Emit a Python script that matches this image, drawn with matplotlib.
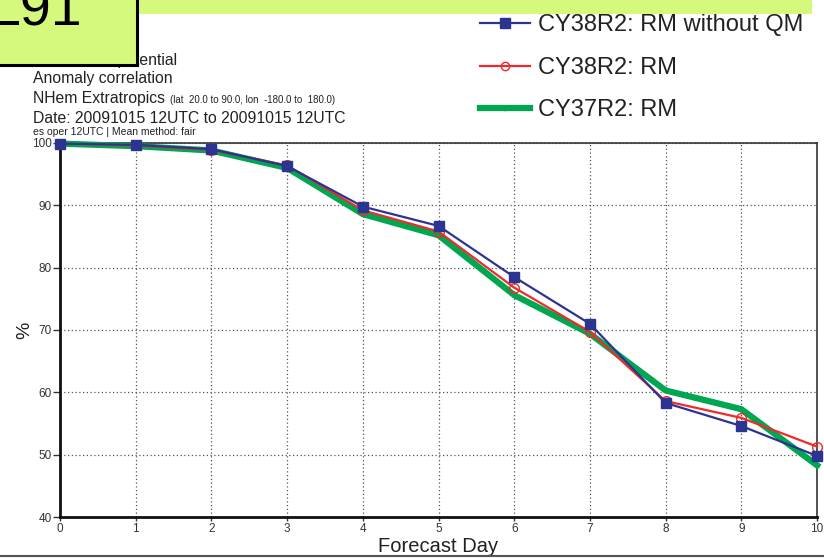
import matplotlib
matplotlib.use("Agg")
import matplotlib.pyplot as plt
from matplotlib.lines import Line2D
from matplotlib.patches import Rectangle

plt.rcParams['font.family'] = ['Liberation Sans', 'DejaVu Sans']

days = [0, 1, 2, 3, 4, 5, 6, 7, 8, 9, 10]
no_qm = [99.9, 99.7, 99.0, 96.3, 89.8, 86.7, 78.5, 71.0, 58.3, 54.6, 49.8]
rm38 = [99.9, 99.6, 98.9, 96.4, 89.2, 85.8, 76.8, 69.7, 58.6, 55.9, 51.3]
rm37 = [99.9, 99.5, 98.8, 96.0, 88.6, 85.2, 75.6, 69.4, 60.3, 57.3, 48.3]
labels = ["CY38R2: RM without QM", "CY38R2: RM", "CY37R2: RM"]
yticks = [40, 50, 60, 70, 80, 90, 100]
xticks = days

W, H = 824, 558
fig = plt.figure(figsize=(W / 100, H / 100), dpi=100)

def fx(px):
    return px / W

def fy(py):
    return 1 - py / H

ax = fig.add_axes([fx(60), fy(517), fx(817) - fx(60), fy(143) - fy(517)])
ax.set_xlim(0, 10)
ax.set_ylim(40, 100)
ax.set_xticks(xticks)
ax.set_yticks(yticks)
ax.tick_params(axis='both', labelsize=8.5, labelcolor='#333333', color='#333333')
ax.tick_params(axis='y', length=5, width=1, pad=1)
ax.tick_params(axis='x', length=3, width=1, pad=1)
ax.grid(True, linestyle=(0, (1, 2)), color='#555555', linewidth=0.9)
for s in ['left', 'bottom']:
    ax.spines[s].set_linewidth(2)
    ax.spines[s].set_color('#111111')
for s in ['top', 'right']:
    ax.spines[s].set_linewidth(1.2)
    ax.spines[s].set_color('#333333')

green = '#00a650'
red = '#ee2a2a'
blue = '#2b3590'

ax.plot(days, rm37, color=green, lw=4.5, marker='o', ms=3, clip_on=False, zorder=3)
ax.plot(days, rm38, color=red, lw=1.6, marker='o', ms=7, mfc='none', mec=red, mew=1.0, clip_on=False, zorder=4)
ax.plot(days, no_qm, color=blue, lw=1.6, marker='s', ms=6.5, mfc=blue, mec=blue, clip_on=False, zorder=5)

ax.set_xlabel("Forecast Day", fontsize=14.5, color='#222222', labelpad=2)
ax.set_ylabel("%", fontsize=14, color='#222222')
ax.yaxis.set_label_coords((33 - 60) / (817 - 60), 0.5)

# legend drawn manually
rows = [(23, 31, blue, 1.6, 's', 6.5, blue), (66, 74, red, 1.6, 'o', 6, 'none'),
        (108, 116, green, 4.5, 'o', 3, green)]
for (py, pb, c, lw, m, ms, mfc), lab in zip(rows, labels):
    fig.add_artist(Line2D([fx(480), fx(530)], [fy(py), fy(py)], color=c, lw=lw))
    fig.add_artist(Line2D([fx(505)], [fy(py)], color=c, marker=m, ms=ms, mfc=mfc, mec=c, mew=1.0, lw=0))
    fig.text(fx(538), fy(pb), lab, fontsize=17, color='#222222', va='baseline', ha='left')

# titles
tc = '#222222'
fig.text(fx(177), fy(65), "500hPa Geopotential", fontsize=11.3, color=tc, va='baseline', ha='right', zorder=1)
fig.text(fx(33), fy(83), "Anomaly correlation", fontsize=11.3, color=tc, va='baseline')
fig.text(fx(33), fy(103), "NHem Extratropics", fontsize=11.3, color=tc, va='baseline')
fig.text(fx(170), fy(103), "(lat  20.0 to 90.0, lon  -180.0 to  180.0)", fontsize=7, color=tc, va='baseline')
fig.text(fx(33), fy(123), "Date: 20091015 12UTC to 20091015 12UTC", fontsize=11.3, color=tc, va='baseline')
fig.text(fx(33), fy(135), "es oper 12UTC | Mean method: fair", fontsize=7.5, color=tc, va='baseline')

# banner and box
banner_c = '#d5f97c'
fig.add_artist(Rectangle((0, fy(14)), fx(812), 1 - fy(14), transform=fig.transFigure,
                         facecolor=banner_c, edgecolor='none', zorder=10))
fig.add_artist(Rectangle((fx(-5), fy(65)), fx(142), 1 - fy(65) + 0.05, transform=fig.transFigure,
                         facecolor=banner_c, edgecolor='black', lw=2.2, zorder=11))
fig.text(fx(-11), fy(25), "L91", fontsize=40, color='black', va='baseline', ha='left', zorder=12)

# bottom line
fig.add_artist(Line2D([0, 1], [fy(556), fy(556)], color='#555555', lw=1.5))

fig.savefig("out.png", dpi=100)
